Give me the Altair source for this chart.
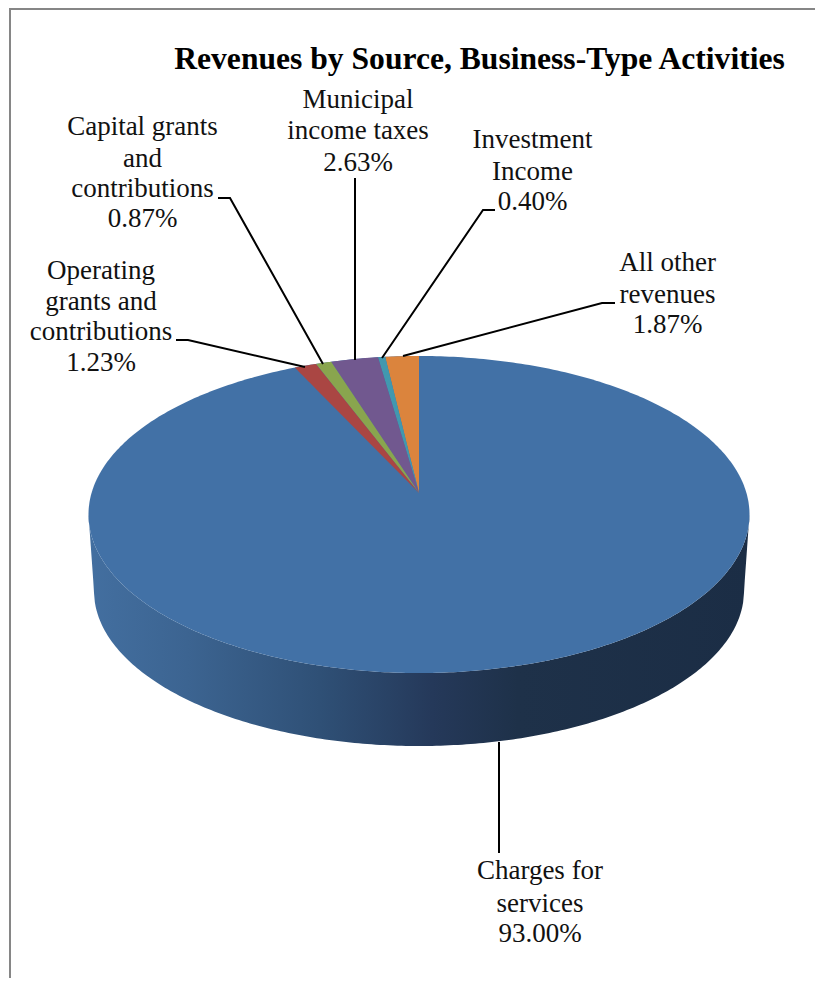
import numpy as np
import pandas as pd
import altair as alt

# ---- values
categories = ["Charges for services", "Operating grants and contributions",
              "Capital grants and contributions", "Municipal income taxes",
              "Investment Income", "All other revenues"]
shares = [93.00, 1.23, 0.87, 2.63, 0.40, 1.87]
colors = ["#4271A6", "#AA4643", "#89A54E", "#71588F", "#4198AF", "#DB843D"]
title_text = "Revenues by Source, Business-Type Activities"
label_lines = [
    ["Charges for", "services", "93.00%"],
    ["Operating", "grants and", "contributions", "1.23%"],
    ["Capital grants", "and", "contributions", "0.87%"],
    ["Municipal", "income taxes", "2.63%"],
    ["Investment", "Income", "0.40%"],
    ["All other", "revenues", "1.87%"],
]

# ---- layout (page pixels)
W, H = 807, 970
CX, CY_APEX = 419.0, 493.0
TOP_Y, BOTTOM_Y, RX = 356.0, 673.0, 330.5
LOW_CY, LOW_RY, LOW_RX = 591.0, 155.0, 325.0
label_x = [540, 101, 142.5, 358, 532.5, 667.5]
label_base = [[879, 912, 942], [279, 310, 340, 371], [135, 167, 197, 227],
              [108, 139, 171], [148, 180, 210], [271, 303, 333]]
leader_paths = [
    [(499, 742), (499, 853)],
    [(176, 340), (188, 340), (305, 367)],
    [(218, 198), (230, 198), (323, 364)],
    [(355, 178), (355, 360)],
    [(495, 210), (483, 210), (382, 358)],
    [(615, 303), (602, 303), (403, 356)],
]
LABEL_SIZE, TITLE_SIZE = 27, 31.6

# ---- perspective projection of the tilted disc
ratio = (BOTTOM_Y - CY_APEX) / (CY_APEX - TOP_Y)
P = (ratio - 1) / (ratio + 1)
HH = (CY_APEX - TOP_Y) * (1 + P)
KK = RX * np.sqrt(1 - P ** 2)
ELL_CY, ELL_RY = (TOP_Y + BOTTOM_Y) / 2, (BOTTOM_Y - TOP_Y) / 2


def project(t):
    u, v = np.sin(t), np.cos(t)
    return CX - KK * u / (1 + P * v), CY_APEX - HH * v / (1 + P * v)


# top disc and wall
phi = np.linspace(0, np.pi, 241)
xs = CX - RX * np.cos(phi)
rel = np.clip((xs - CX) / RX, -1, 1)
disc_up = ELL_CY - ELL_RY * np.sqrt(1 - rel ** 2)
disc_lo = ELL_CY + ELL_RY * np.sqrt(1 - rel ** 2)
wall_lo = []
for x in xs:
    d = abs(x - CX)
    if d <= LOW_RX:
        wall_lo.append(LOW_CY + LOW_RY * np.sqrt(1 - (d / LOW_RX) ** 2))
    else:
        wall_lo.append(LOW_CY + (ELL_CY - LOW_CY) * (d - LOW_RX) / (RX - LOW_RX))

disc_df = pd.DataFrame({"x": xs, "y": disc_up, "y2": disc_lo})
wall_df = pd.DataFrame({"x": xs, "y": disc_lo, "y2": wall_lo})

# small slices, running counter-clockwise from 12 o'clock in reverse order
rows = []
cum = 0.0
for name, share in reversed(list(zip(categories[1:], shares[1:]))):
    t0 = 2 * np.pi * cum / 100
    cum += share
    t1 = 2 * np.pi * cum / 100
    tt = np.linspace(t1, t0, 12)
    ax, ay = project(tt)
    lx, ly = ax[0], ay[0]        # far-left arc end
    rx, ry = ax[-1], ay[-1]      # right arc end
    px = list(ax) + ([CX] if rx < CX - 1e-6 else [])
    for x in px:
        lower = ly + (CY_APEX - ly) * (x - lx) / (CX - lx)
        if x <= rx:
            upper = np.interp(x, ax, ay)
        else:
            upper = ry + (CY_APEX - ry) * (x - rx) / (CX - rx)
        rows.append({"slice": name, "x": x, "y": upper, "y2": lower})
slice_df = pd.DataFrame(rows)

text_rows = []
for i, lines in enumerate(label_lines):
    for line, base in zip(lines, label_base[i]):
        text_rows.append({"x": label_x[i], "y": base, "t": line})
text_df = pd.DataFrame(text_rows)

leader_rows = []
for i, path in enumerate(leader_paths):
    for j, (x, y) in enumerate(path):
        leader_rows.append({"id": i, "o": j, "x": x, "y": y})
leader_df = pd.DataFrame(leader_rows)

X = alt.X("x:Q", scale=alt.Scale(domain=[8, 8 + W], nice=False, zero=False), axis=None)
Y = alt.Y("y:Q", scale=alt.Scale(domain=[8 + H, 8], nice=False, zero=False), axis=None)

wall = alt.Chart(wall_df).mark_area(
    orient="vertical",
    color=alt.Gradient(
        gradient="linear", x1=0, x2=1, y1=0, y2=0,
        stops=[
            alt.GradientStop(offset=0.0, color="#436FA0"),
            alt.GradientStop(offset=0.15, color="#3C6491"),
            alt.GradientStop(offset=0.35, color="#2F5076"),
            alt.GradientStop(offset=0.52, color="#25395A"),
            alt.GradientStop(offset=0.65, color="#1E3149"),
            alt.GradientStop(offset=1.0, color="#1B2D45"),
        ],
    ),
).encode(x=X, y=Y, y2="y2:Q")

disc = alt.Chart(disc_df).mark_area(orient="vertical", color=colors[0]).encode(x=X, y=Y, y2="y2:Q")

slices = alt.Chart(slice_df).mark_area(orient="vertical").encode(
    x=X, y=Y, y2="y2:Q",
    color=alt.Color("slice:N", scale=alt.Scale(domain=categories, range=colors), legend=None),
)

leaders = alt.Chart(leader_df).mark_line(color="#000000", strokeWidth=2).encode(
    x=X, y=Y, detail="id:N", order="o:Q")

labels = alt.Chart(text_df).mark_text(
    font="Liberation Serif", fontSize=LABEL_SIZE, color="#111111",
    align="center", baseline="alphabetic",
).encode(x=X, y=Y, text="t:N")

title = alt.Chart(pd.DataFrame({"x": [479.5], "y": [69], "t": [title_text]})).mark_text(
    font="Liberation Serif", fontSize=TITLE_SIZE, fontWeight="bold", color="#000000",
    align="center", baseline="alphabetic",
).encode(x=X, y=Y, text="t:N")

border_left = alt.Chart(pd.DataFrame({"x": [10], "y": [9], "y2": [8 + H]})).mark_rule(
    color="#868686", strokeWidth=2).encode(x=X, y=Y, y2="y2:Q")
border_top = alt.Chart(pd.DataFrame({"x": [9], "x2": [8 + W], "y": [9]})).mark_rule(
    color="#868686", strokeWidth=2).encode(x=X, x2="x2:Q", y=Y)

chart = alt.layer(
    border_left, border_top, wall, disc, slices, leaders, labels, title
).properties(
    width=W, height=H, autosize="none", padding=0, background="#ffffff"
).configure_view(stroke=None)

chart.save("out.html", embed_options={"renderer": "svg", "actions": False})
